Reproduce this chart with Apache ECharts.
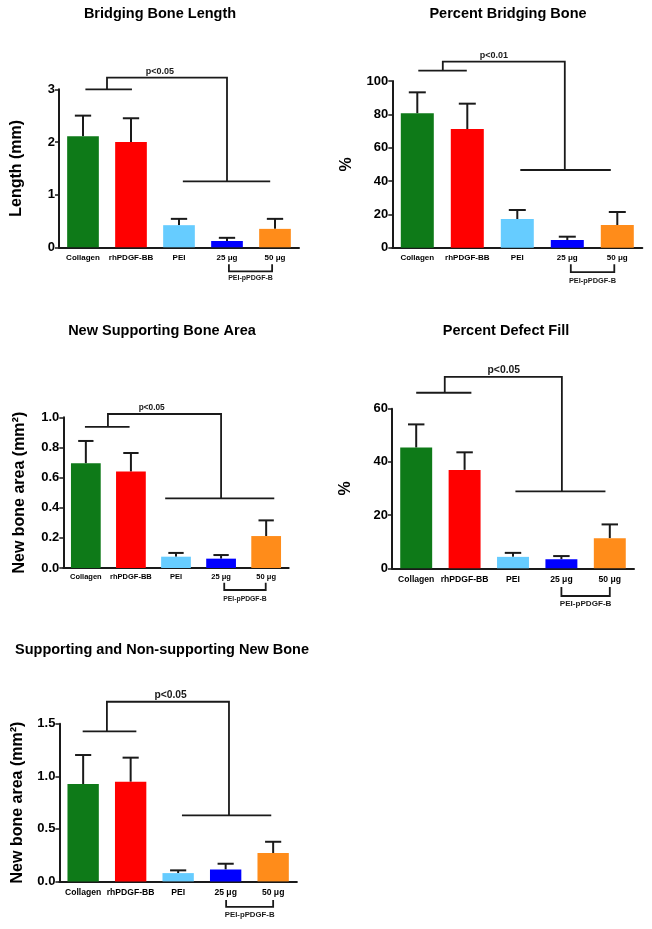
<!DOCTYPE html>
<html><head><meta charset="utf-8">
<script src="https://cdn.jsdelivr.net/npm/echarts@6/dist/echarts.min.js"></script>
<style>html,body{margin:0;padding:0;background:#fff}#c{width:652px;height:929px}</style>
</head><body><div id="c"></div>
<script>
// ---------- data ----------
const categories = ['Collagen', 'rhPDGF-BB', 'PEI', '25 μg', '50 μg'];
const groupLabel = 'PEI-pPDGF-B';
const barColors = ['#0e7a18', '#ff0000', '#66ccff', '#0000ff', '#ff8c1a'];

const titles = ['Bridging Bone Length', 'Percent Bridging Bone', 'New Supporting Bone Area', 'Percent Defect Fill', 'Supporting and Non-supporting New Bone'];
const yNames = ['Length (mm)', '%', 'New bone area (mm²)', '%', 'New bone area (mm²)'];
const pTexts = ['p<0.05', 'p<0.01', 'p<0.05', 'p<0.05', 'p<0.05'];

const bridgingLengthMean = [2.11, 2.00, 0.42, 0.12, 0.35];
const bridgingLengthErr  = [0.39, 0.45, 0.12, 0.06, 0.19];
const percentBridgingMean = [80.6, 71.2, 17.2, 4.6, 13.6];
const percentBridgingErr  = [12.6, 15.2, 5.4, 2.0, 7.8];
const supportingAreaMean = [0.695, 0.640, 0.075, 0.062, 0.212];
const supportingAreaErr  = [0.148, 0.123, 0.025, 0.024, 0.104];
const defectFillMean = [45.4, 37.0, 4.3, 3.4, 11.3];
const defectFillErr  = [8.7, 6.6, 1.5, 1.2, 5.2];
const totalAreaMean = [0.926, 0.948, 0.079, 0.114, 0.270];
const totalAreaErr  = [0.276, 0.229, 0.026, 0.054, 0.107];

const yMax = [3, 100, 1.0, 60, 1.5];
const yInterval = [1, 20, 0.2, 20, 0.5];
const yDecimals = [0, 0, 1, 0, 1];

// significance brackets, in category index / data units:
// [leftX0, leftX1, leftY, stemX, topY, rightStemX, rightY, rightX0, rightX1, textX]
const sigBrackets = [
  [0.05, 1.02, 3.00, 0.50, 3.22, 3.00, 1.25, 2.08, 3.90, 1.60],
  [0.02, 0.99, 106.2, 0.51, 111.6, 2.95, 46.6, 2.06, 3.87, 1.53],
  [-0.02, 0.97, 0.936, 0.49, 1.022, 3.00, 0.462, 1.76, 4.18, 1.46],
  [0.00, 1.14, 66.0, 0.59, 72.0, 3.01, 28.9, 2.05, 3.91, 1.81],
  [-0.01, 1.12, 1.427, 0.50, 1.709, 3.07, 0.628, 2.08, 3.96, 1.84]
];
// group bracket under the two PEI-pPDGF-B categories
const groupBracketX = [[3.04, 3.94], [3.07, 3.94], [3.07, 3.99], [3.0, 4.0], [3.01, 4.0]];

const means = [bridgingLengthMean, percentBridgingMean, supportingAreaMean, defectFillMean, totalAreaMean];
const errs = [bridgingLengthErr, percentBridgingErr, supportingAreaErr, defectFillErr, totalAreaErr];

// ---------- layout / style ----------
const layout = [
  {left: 59, top: 89.3, width: 240, height: 158, titleX: 160, titleY: 15, nameGap: 34, catFont: 8, catMargin: 6, pFont: 9, gFont: 7, gTick: [17, 24], gText: 31},
  {left: 392.3, top: 81, width: 250, height: 166.7, titleX: 508, titleY: 15, nameGap: 38, catFont: 8, catMargin: 6, pFont: 9, gFont: 7.4, gTick: [16.5, 24.5], gText: 33},
  {left: 63.3, top: 417.3, width: 225.4, height: 150.7, titleX: 162, titleY: 332, nameGap: 36, catFont: 7.5, catMargin: 5, pFont: 8.3, gFont: 6.8, gTick: [14.7, 22], gText: 31},
  {left: 392, top: 408.7, width: 242, height: 159.6, titleX: 506, titleY: 332, nameGap: 38, catFont: 8.6, catMargin: 7, pFont: 10.4, gFont: 8.1, gTick: [18.7, 27.7], gText: 35.7},
  {left: 59.4, top: 723.7, width: 237.5, height: 157.7, titleX: 162, titleY: 651, nameGap: 34, catFont: 8.6, catMargin: 7, pFont: 10.3, gFont: 7.8, gTick: [18.7, 25.4], gText: 33.7}
];
const FONT = 'Liberation Sans, Arial, Helvetica, sans-serif';
const INK = '#1a1a1a';

function errRender(params, api) {
  const x = api.value(0);
  const p0 = api.coord([x, api.value(1)]);
  const p1 = api.coord([x, api.value(2)]);
  const bw = api.size([1, 0])[0];
  const half = bw * 0.17;
  const st = {stroke: INK, lineWidth: 2};
  return {type: 'group', children: [
    {type: 'line', shape: {x1: p0[0], y1: p0[1], x2: p1[0], y2: p1[1]}, style: st},
    {type: 'line', shape: {x1: p1[0] - half, y1: p1[1], x2: p1[0] + half, y2: p1[1]}, style: st}
  ]};
}

function sigRenderFactory(k) {
  const s = sigBrackets[k];
  const L = layout[k];
  const gx = groupBracketX[k];
  return function (params, api) {
    const c0 = api.coord([0, 0]);
    const c1 = api.coord([1, 0]);
    const bw = c1[0] - c0[0];
    const X = i => c0[0] + i * bw;
    const Y = v => api.coord([0, v])[1];
    const y0 = c0[1];
    const st = {stroke: INK, lineWidth: 1.8, fill: null};
    return {type: 'group', children: [
      {type: 'line', shape: {x1: X(s[0]), y1: Y(s[2]), x2: X(s[1]), y2: Y(s[2])}, style: st},
      {type: 'polyline', shape: {points: [[X(s[3]), Y(s[2])], [X(s[3]), Y(s[4])], [X(s[5]), Y(s[4])], [X(s[5]), Y(s[6])]]}, style: st},
      {type: 'line', shape: {x1: X(s[7]), y1: Y(s[6]), x2: X(s[8]), y2: Y(s[6])}, style: st},
      {type: 'text', style: {text: pTexts[k], x: X(s[9]), y: Y(s[4]) - 2, align: 'center', verticalAlign: 'bottom',
        fill: INK, fontSize: L.pFont, fontWeight: 'bold', fontFamily: FONT}},
      {type: 'polyline', shape: {points: [[X(gx[0]), y0 + L.gTick[0]], [X(gx[0]), y0 + L.gTick[1]], [X(gx[1]), y0 + L.gTick[1]], [X(gx[1]), y0 + L.gTick[0]]]}, style: st},
      {type: 'text', style: {text: groupLabel, x: X((gx[0] + gx[1]) / 2), y: y0 + L.gText, align: 'center', verticalAlign: 'middle',
        fill: INK, fontSize: L.gFont, fontWeight: 'bold', fontFamily: FONT}}
    ]};
  };
}

const option = {
  animation: false,
  backgroundColor: '#fff',
  title: [], grid: [], xAxis: [], yAxis: [], series: []
};

for (let k = 0; k < 5; k++) {
  const L = layout[k];
  option.title.push({
    text: titles[k], left: L.titleX, top: L.titleY - 9, textAlign: 'center', padding: 0,
    textStyle: {fontFamily: FONT, fontSize: 14.5, fontWeight: 'bold', color: '#000'}
  });
  option.grid.push({left: L.left, top: L.top, width: L.width, height: L.height, containLabel: false});
  option.xAxis.push({
    type: 'category', gridIndex: k, data: categories,
    axisLine: {lineStyle: {color: INK, width: 2}},
    axisTick: {alignWithLabel: true, length: 4, lineStyle: {color: INK, width: 1.5}},
    axisLabel: {color: '#000', fontFamily: FONT, fontWeight: 'bold', fontSize: L.catFont, margin: L.catMargin, interval: 0},
    splitLine: {show: false}
  });
  const dec = yDecimals[k];
  option.yAxis.push({
    type: 'value', gridIndex: k, min: 0, max: yMax[k], interval: yInterval[k],
    name: yNames[k], nameLocation: 'middle', nameRotate: 90, nameGap: L.nameGap,
    nameTextStyle: {fontFamily: FONT, fontWeight: 'bold', fontSize: 16, color: '#000'},
    axisLine: {show: true, lineStyle: {color: INK, width: 2}},
    axisTick: {show: true, length: 4, lineStyle: {color: INK, width: 1.5}},
    axisLabel: {color: '#000', fontFamily: FONT, fontWeight: 'bold', fontSize: 13, margin: 4,
      formatter: v => v.toFixed(dec)},
    splitLine: {show: false}
  });
  option.series.push({
    type: 'custom', xAxisIndex: k, yAxisIndex: k, renderItem: errRender, z: 1,
    data: categories.map((c, i) => [i, means[k][i], means[k][i] + errs[k][i]]),
    encode: {x: 0, y: [1, 2]}, silent: true
  });
  option.series.push({
    type: 'bar', xAxisIndex: k, yAxisIndex: k, barWidth: '66%', z: 2,
    data: means[k].map((v, i) => ({value: v, itemStyle: {color: barColors[i]}})),
    silent: true
  });
  option.series.push({
    type: 'custom', xAxisIndex: k, yAxisIndex: k, renderItem: sigRenderFactory(k), clip: false, z: 3,
    data: [[0, 0]], encode: {x: 0, y: 1}, silent: true
  });
}

const chart = echarts.init(document.getElementById('c'), null, {renderer: 'canvas'});
chart.setOption(option);
</script>
</body></html>
